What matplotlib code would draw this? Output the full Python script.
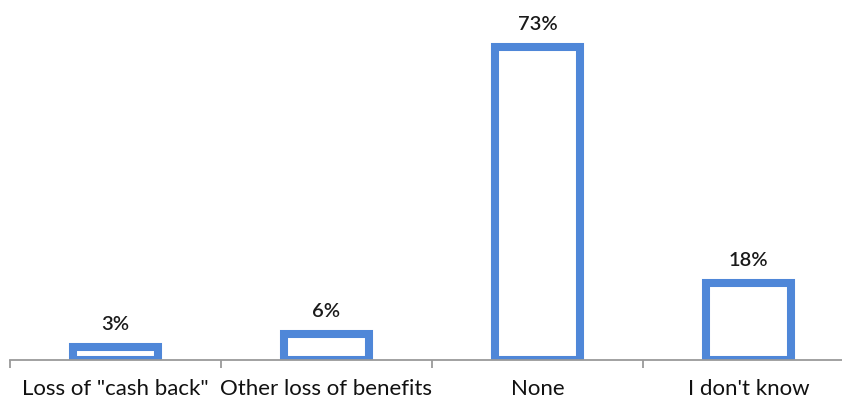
import matplotlib
matplotlib.use('Agg')
import matplotlib.pyplot as plt
import numpy as np

categories = ['Loss of "cash back"', 'Other loss of benefits', 'None', "I don't know"]
values = [3, 6, 73, 18]
value_labels = ['3%', '6%', '73%', '18%']

plt.rcParams['font.family'] = ['Lato', 'DejaVu Sans']

W, H = 842, 403
fig = plt.figure(figsize=(W / 100, H / 100), dpi=100)
# axis from x=10 to ~854 (right end is cut off), baseline at y=360
ax = fig.add_axes([10 / W, 43 / H, 844 / W, 343 / H])

x = np.arange(len(categories))
bars = ax.bar(x, values, width=0.40, facecolor='white', edgecolor='#4F87D8',
              linewidth=5.8, zorder=2)
for b in bars:
    b.set_joinstyle('miter')

for xi, v, lab in zip(x, values, value_labels):
    ax.annotate(lab, (xi, v), xytext=(0, 10), textcoords='offset points',
                ha='center', va='bottom', fontsize=14.5, fontweight='semibold',
                color='#1a1a1a')

ax.set_xlim(-0.5, 3.5)
ax.set_ylim(0, 80)

for s in ['top', 'right', 'left']:
    ax.spines[s].set_visible(False)
ax.spines['bottom'].set_color('#9a9a9a')
ax.spines['bottom'].set_linewidth(1.3)
ax.spines['bottom'].set_zorder(3)

ax.set_yticks([])
ax.set_xticks(x)
ax.set_xticklabels(categories, fontsize=16, color='#111111')
ax.tick_params(axis='x', which='major', length=0, pad=14)
ax.set_xticks(np.arange(-0.5, 4, 1), minor=True)
ax.tick_params(axis='x', which='minor', length=6, width=1.3, color='#9a9a9a')

fig.savefig('out.png', dpi=100)
